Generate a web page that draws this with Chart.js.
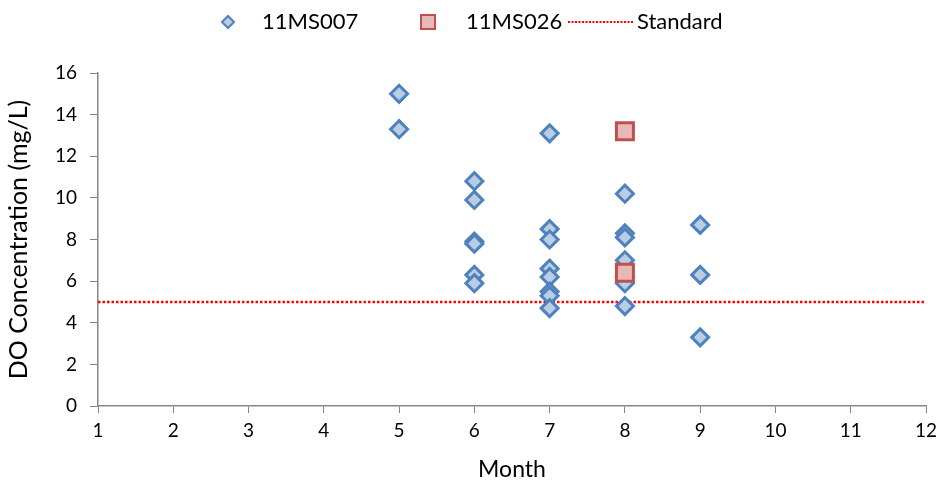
<!DOCTYPE html>
<html><head><meta charset="utf-8">
<script src="https://cdn.jsdelivr.net/npm/chart.js@4/dist/chart.umd.min.js"></script>
<style>html,body{margin:0;padding:0;background:#fff}#wrap{width:944px;height:491px;position:relative}</style>
</head><body><div id="wrap"><canvas id="c"></canvas></div>
<script>
// ---- data ----
const months007 = [5,5, 6,6,6,6,6,6, 7,7,7,7,7,7,7,7, 8,8,8,8,8,8,8, 9,9,9];
const values007 = [15.0,13.3, 10.8,9.9,7.9,7.8,6.3,5.9, 13.1,8.5,8.0,6.6,6.2,5.5,5.3,4.7, 10.2,8.3,8.1,7.0,6.2,5.9,4.8, 8.7,6.3,3.3];
const months026 = [8,8];
const values026 = [13.2,6.4];
const standardMonths = [1,12];
const standardValues = [5,5];
const seriesNames = ['11MS007','11MS026','Standard'];
const xTitle = 'Month';
const yTitle = 'DO Concentration (mg/L)';

const toPts = (xs, ys) => xs.map((x,i)=>({x, y: ys[i]}));

const blueFill = '#b9cde5', blueLine = '#4f81bd';
const redFill = '#e6b9b8', redLine = '#c0504d';
const stdColor = '#ff0000';
const axisGray = '#868686';
const FONT = 'Lato';

const legendPlugin = {
  id: 'customLegend',
  afterDraw(chart) {
    const ctx = chart.ctx;
    ctx.save();
    const y = 22;
    ctx.font = '22px ' + FONT;
    ctx.textBaseline = 'middle';
    // diamond
    ctx.beginPath();
    ctx.moveTo(228-6, y); ctx.lineTo(228, y-6); ctx.lineTo(228+6, y); ctx.lineTo(228, y+6); ctx.closePath();
    ctx.fillStyle = blueFill; ctx.fill();
    ctx.lineWidth = 2; ctx.strokeStyle = blueLine; ctx.stroke();
    ctx.fillStyle = '#000';
    ctx.fillText(seriesNames[0], 262, y);
    // square
    ctx.fillStyle = redFill; ctx.fillRect(421, y-7, 14, 14);
    ctx.lineWidth = 2; ctx.strokeStyle = redLine; ctx.strokeRect(421, y-7, 14, 14);
    ctx.fillStyle = '#000';
    ctx.fillText(seriesNames[1], 466, y);
    // line
    ctx.beginPath(); ctx.setLineDash([2,1.5]); ctx.lineWidth = 2; ctx.strokeStyle = stdColor;
    ctx.moveTo(568, y); ctx.lineTo(633, y); ctx.stroke(); ctx.setLineDash([]);
    ctx.fillStyle = '#000';
    ctx.fillText(seriesNames[2], 637, y);
    ctx.restore();
  }
};

new Chart(document.getElementById('c'), {
  type: 'scatter',
  data: {
    datasets: [
      {
        label: seriesNames[1], data: toPts(months026, values026), order: 1,
        pointStyle: 'rect', pointRadius: 12, pointHoverRadius: 12,
        backgroundColor: redFill, borderColor: redLine, borderWidth: 3
      },
      {
        label: seriesNames[0], data: toPts(months007, values007), order: 2,
        pointStyle: 'rectRot', pointRadius: 8.5, pointHoverRadius: 8.5,
        backgroundColor: blueFill, borderColor: blueLine, borderWidth: 3
      },
      {
        type: 'line', label: seriesNames[2], data: toPts(standardMonths, standardValues), order: 3,
        borderColor: stdColor, borderWidth: 2.5, borderDash: [2.5, 2], pointRadius: 0, fill: false
      }
    ]
  },
  options: {
    responsive: true, maintainAspectRatio: false, animation: false,
    layout: { padding: { top: 73, right: 18, left: 0, bottom: 0 } },
    plugins: { legend: { display: false }, tooltip: { enabled: false } },
    scales: {
      x: {
        type: 'linear', min: 1, max: 12,
        afterFit(s) { s.height = 85; },
        ticks: { stepSize: 1, color: '#000', font: { family: FONT, size: 19 }, padding: 6, maxRotation: 0 },
        grid: { drawOnChartArea: false, tickLength: 7, color: axisGray, tickColor: axisGray },
        border: { color: axisGray, width: 1.5 },
        title: { display: true, text: xTitle, color: '#000', font: { family: FONT, size: 23 }, padding: { top: 4, bottom: 8 } }
      },
      y: {
        min: 0, max: 16,
        afterFit(s) { s.width = 98; },
        ticks: { stepSize: 2, color: '#000', font: { family: FONT, size: 19 }, padding: 13 },
        grid: { drawOnChartArea: false, tickLength: 8, color: axisGray, tickColor: axisGray },
        border: { color: axisGray, width: 1.5 },
        title: { display: true, text: yTitle, color: '#000', font: { family: FONT, size: 25 }, padding: { top: 4, bottom: 2 } }
      }
    }
  },
  plugins: [legendPlugin]
});
</script>
</body></html>
